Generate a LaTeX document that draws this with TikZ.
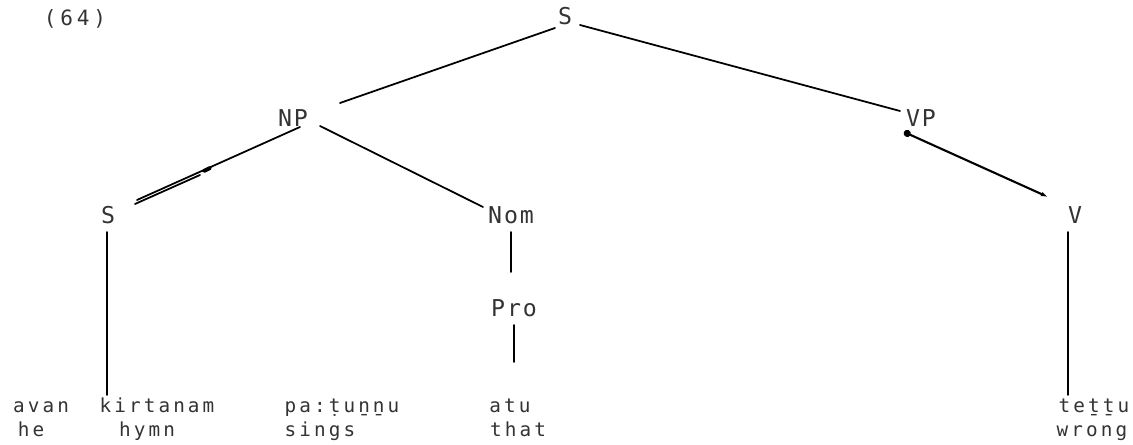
\documentclass[tikz,border=0pt]{standalone}
\usepackage{fontspec}
\setmainfont{DejaVu Sans}
% wide-pitched mono faces for the category labels and the glossed words
\newfontfamily\dotlabel[LetterSpace=8]{DejaVu Sans Mono}
\newfontfamily\dotword[LetterSpace=16]{DejaVu Sans Mono}
\newfontfamily\dotnum[LetterSpace=18]{DejaVu Sans Mono}
\usetikzlibrary{arrows.meta}
\begin{document}
\begin{tikzpicture}[x=0.02cm,y=-0.02cm,
  cat/.style={inner sep=0pt, text=black!80, font=\dotlabel\fontsize{13.2}{15}\selectfont},
  word/.style={inner sep=0pt, anchor=base, text=black!80, font=\dotword\fontsize{11}{13}\selectfont},
  branch/.style={line width=1pt, black, line cap=round}]
\useasboundingbox (0,0) rectangle (1133,445);

% example number
\node[inner sep=0pt, text=black!80, font=\dotnum\fontsize{12}{14}\selectfont] (ex) at (75,19) {(64)};

% categories
\node[cat] (S0)  at (565,16)  {S};
\node[cat] (NP)  at (293,118) {NP};
\node[cat] (VP)  at (921,118) {VP};
\node[cat] (S1)  at (108,215) {S};
\node[cat] (Nom) at (511,215) {Nom};
\node[cat] (V)   at (1075,215) {V};
\node[cat] (Pro) at (514,308) {Pro};

% words and glosses
\node[word] (avan)  at (41,413)   {avan};
\node[word] (kirt)  at (157,413)  {kirtanam};
\node[word] (patu)  at (342,413)  {pa:ṭuṉṉu};
\node[word] (atu)   at (510,413)  {atu};
\node[word] (tettu) at (1094,413) {teṯṯu};
\node[word] (he)    at (31,437)   {he};
\node[word] (hymn)  at (147,437)  {hymn};
\node[word] (sings) at (320,437)  {sings};
\node[word] (that)  at (518,437)  {that};
\node[word] (wrong) at (1092,437) {wrong};

\coordinate (sfoot) at (107,395);

% branches
\draw[branch] ([shift={(-10,12)}]S0.center) -- ([shift={(47,-15)}]NP.center);
\draw[branch] ([shift={(15,9)}]S0.center) -- ([shift={(-21,-7)}]VP.center);
\draw[branch] ([shift={(7,9)}]NP.center) -- ([shift={(29,-15)}]S1.center);
\draw[branch] ([shift={(-93,57)}]NP.center) -- ([shift={(27,-11)}]S1.center);
\draw[line width=2.2pt, line cap=round] ([shift={(-89,53)}]NP.center) -- ([shift={(-83,50)}]NP.center);
\draw[branch] ([shift={(27,8)}]NP.center) -- ([shift={(-28,-8)}]Nom.center);
\draw[branch, line width=1.2pt, {Circle[length=4pt]}-{Latex[length=4pt,width=2.6pt]}]
  ([shift={(-17,14)}]VP.center) -- ([shift={(-27,-18)}]V.center);
\draw[branch] ([shift={(0,17)}]Nom.center) -- ([shift={(-3,-36)}]Pro.center);
\draw[branch] ([shift={(0,17)}]Pro.center) -- ([shift={(4,-51)}]atu.base);
\draw[branch] ([shift={(-1,17)}]S1.center) -- (sfoot);
\draw[branch] ([shift={(-7,17)}]V.center) -- ([shift={(-26,-18)}]tettu.base);
\end{tikzpicture}
\end{document}
